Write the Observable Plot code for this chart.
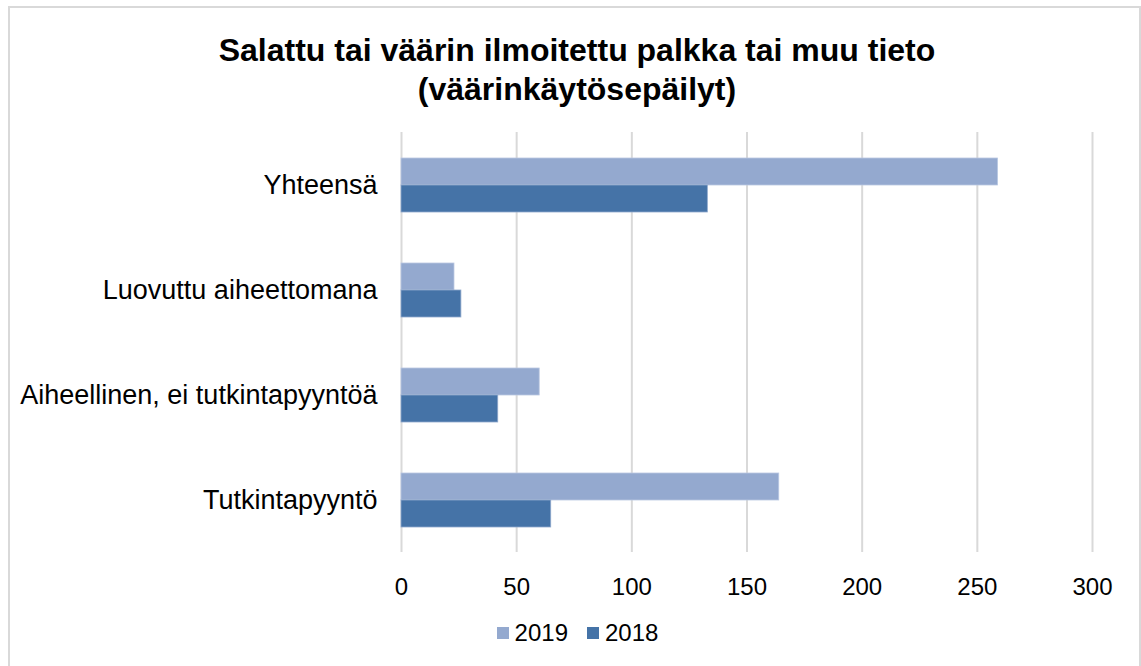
<!DOCTYPE html>
<html>
<head>
<meta charset="utf-8">
<script src="https://cdn.jsdelivr.net/npm/d3@7"></script>
<script src="https://cdn.jsdelivr.net/npm/@observablehq/plot@0.6"></script>
<style>
  html, body { margin: 0; padding: 0; background: #fff; }
  body { width: 1141px; height: 666px; position: relative; overflow: hidden; font-family: "Liberation Sans", Arial, sans-serif; }
  #frame { position: absolute; left: 8px; top: 6px; width: 1133px; height: 670px; border: 2px solid #d9d9d9; box-sizing: border-box; }
  #title { position: absolute; left: 0; top: 31px; width: 1154px; text-align: center; font-weight: bold; font-size: 32px; line-height: 39px; color: #000; }
  #chart { position: absolute; left: 0; top: 0; }
  #legend { position: absolute; top: 619px; left: 0; width: 1155px; display: flex; justify-content: center; gap: 19px; font-size: 24px; line-height: 28px; color: #000; }
  .item { display: flex; align-items: center; gap: 6px; }
  .sw { width: 12px; height: 12px; display: inline-block; }
</style>
</head>
<body>
<div id="frame"></div>
<div id="title">Salattu tai väärin ilmoitettu palkka tai muu tieto<br>(väärinkäytösepäilyt)</div>
<div id="chart"></div>
<div id="legend"></div>
<script>
const categories = ["Yhteensä", "Luovuttu aiheettomana", "Aiheellinen, ei tutkintapyyntöä", "Tutkintapyyntö"];
const years = ["2019", "2018"];
const values2019 = [259, 23, 60, 164];
const values2018 = [133, 26, 42, 65];
const xTicks = [0, 50, 100, 150, 200, 250, 300];
const colors = {"2019": "#94a9cf", "2018": "#4573a7"};

const data2019 = categories.map((c, i) => ({category: c, year: "2019", value: values2019[i]}));
const data2018 = categories.map((c, i) => ({category: c, year: "2018", value: values2018[i]}));

const plot = Plot.plot({
  width: 1141,
  height: 610,
  marginLeft: 401,
  marginRight: 49,
  marginTop: 132,
  marginBottom: 58,
  style: {fontFamily: "'Liberation Sans', Arial, sans-serif", background: "transparent"},
  x: {domain: [0, 300], ticks: xTicks, label: null, axis: null},
  y: {domain: categories, paddingInner: 0.486, paddingOuter: 0.243, label: null, axis: null},
  marks: [
    Plot.ruleX(xTicks, {stroke: "#d9d9d9", strokeWidth: 2}),
    Plot.barX(data2019, {x: "value", y: "category", fill: colors["2019"], insetBottom: 27, stroke: "#b9c7e2", strokeWidth: 0.8}),
    Plot.barX(data2018, {x: "value", y: "category", fill: colors["2018"], insetTop: 27, stroke: "#8fa8cc", strokeWidth: 0.8}),
    Plot.axisX({ticks: xTicks, tickSize: 0, tickPadding: 25, fontSize: 24, label: null, fill: "#000"}),
    Plot.axisY({tickSize: 0, tickPadding: 24, fontSize: 27, label: null, fill: "#000"})
  ]
});
document.getElementById("chart").appendChild(plot);

const legend = document.getElementById("legend");
for (const y of years) {
  const item = document.createElement("span");
  item.className = "item";
  const sw = document.createElement("span");
  sw.className = "sw";
  sw.style.background = colors[y];
  const t = document.createElement("span");
  t.textContent = y;
  item.appendChild(sw);
  item.appendChild(t);
  legend.appendChild(item);
}
</script>
</body>
</html>
